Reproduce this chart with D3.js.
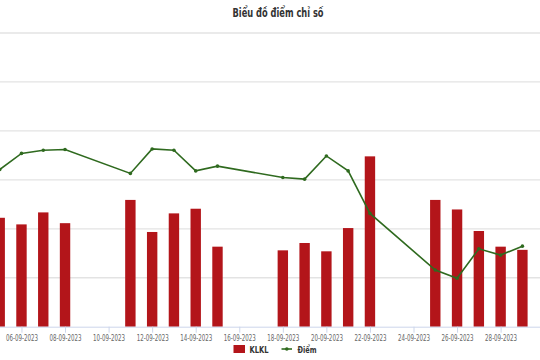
<!DOCTYPE html>
<html>
<head>
<meta charset="utf-8">
<script src="https://cdn.jsdelivr.net/npm/d3@7"></script>
<style>
  html, body { margin: 0; padding: 0; background: #fff; }
  svg { display: block; }
  text { font-family: "Liberation Sans Narrow", "DejaVu Sans Condensed", "Arial Narrow", sans-serif; }
</style>
</head>
<body>
<svg id="chart" width="540" height="360"></svg>
<script>
// ---- data ----
const dates = ["2023-09-05","2023-09-06","2023-09-07","2023-09-08","2023-09-11","2023-09-12","2023-09-13","2023-09-14","2023-09-15","2023-09-18","2023-09-19","2023-09-20","2023-09-21","2023-09-22","2023-09-25","2023-09-26","2023-09-27","2023-09-28","2023-09-29"];
const klkl = [445, 418, 467, 423, 518, 387, 463, 482, 327, 312, 342, 308, 403, 696, 518, 479, 391, 327, 314];
const diem = [1232.4, 1243.9, 1246.2, 1246.7, 1229.6, 1247.1, 1246.2, 1231.4, 1234.8, 1226.7, 1225.5, 1242.1, 1231.4, 1201.0, 1160.5, 1154.6, 1175.7, 1171.2, 1177.6];
const tickDates = ["2023-09-06","2023-09-08","2023-09-10","2023-09-12","2023-09-14","2023-09-16","2023-09-18","2023-09-20","2023-09-22","2023-09-24","2023-09-26","2023-09-28"];
const klklTicks = [0, 200, 400, 600, 800, 1000, 1200];
const title = "Biểu đồ điểm chỉ số";
const seriesNames = ["KLKL", "Điểm"];

// ---- layout ----
const svg = d3.select("#chart");
const plotTop = 33, plotBottom = 326.7, plotRight = 540;
const parse = d3.utcParse("%Y-%m-%d");
const fmt = d3.utcFormat("%d-%m-%Y");
const barColor = "#b3151a", lineColor = "#2f6a1f";

const x = d3.scaleUtc()
  .domain([parse("2023-09-05"), parse("2023-09-29")])
  .range([-0.3, 522.4]);
const y1 = d3.scaleLinear().domain([0, 1200]).range([plotBottom, plotTop]);
const y2 = d3.scaleLinear().domain([1120, 1330]).range([plotBottom, plotTop]);

// title
svg.append("text")
  .attr("x", 278).attr("y", 17)
  .attr("text-anchor", "middle")
  .attr("font-size", 12.5).attr("font-weight", "bold")
  .attr("fill", "#333")
  .attr("textLength", 91).attr("lengthAdjust", "spacingAndGlyphs")
  .text(title);

// gridlines
svg.append("g").selectAll("line")
  .data(klklTicks.slice(1))
  .join("line")
  .attr("x1", 0).attr("x2", plotRight)
  .attr("y1", d => y1(d)).attr("y2", d => y1(d))
  .attr("stroke", "#e3e3e3").attr("stroke-width", 1.3);

// bars
const bw = 10.4;
svg.append("g").selectAll("rect")
  .data(dates.map((d, i) => ({ d: parse(d), v: klkl[i] })))
  .join("rect")
  .attr("x", d => x(d.d) - bw / 2)
  .attr("width", bw)
  .attr("y", d => y1(d.v))
  .attr("height", d => plotBottom - y1(d.v))
  .attr("fill", barColor);

// x axis
const xAxis = d3.axisBottom(x)
  .tickValues(tickDates.map(parse))
  .tickFormat(fmt)
  .tickSize(6)
  .tickSizeOuter(0);
const gx = svg.append("g")
  .attr("transform", `translate(0,${plotBottom})`)
  .call(xAxis);
gx.select(".domain").attr("stroke", "#ccd6eb").attr("d", `M0,0.5H${plotRight}`);
gx.selectAll(".tick line").attr("stroke", "#ccd6eb");
gx.selectAll(".tick text")
  .attr("fill", "#666").attr("font-size", 8.5)
  .attr("y", 8)
  .attr("textLength", 32).attr("lengthAdjust", "spacingAndGlyphs")
  .attr("font-family", "'Liberation Sans Narrow', 'DejaVu Sans Condensed', sans-serif");

// line
const pts = dates.map((d, i) => ({ d: parse(d), v: diem[i] }));
const line = d3.line().x(d => x(d.d)).y(d => y2(d.v));
svg.append("path")
  .datum(pts)
  .attr("d", line)
  .attr("fill", "none")
  .attr("stroke", lineColor)
  .attr("stroke-width", 1.6);
svg.append("g").selectAll("circle")
  .data(pts)
  .join("circle")
  .attr("cx", d => x(d.d)).attr("cy", d => y2(d.v))
  .attr("r", 1.8)
  .attr("fill", lineColor);

// legend
const lg = svg.append("g");
lg.append("rect").attr("x", 233.5).attr("y", 345).attr("width", 11.5).attr("height", 8).attr("fill", barColor);
lg.append("text").attr("x", 249.5).attr("y", 352.5).attr("font-size", 9.5).attr("font-weight", "bold").attr("fill", "#333")
  .attr("textLength", 19).attr("lengthAdjust", "spacingAndGlyphs").text(seriesNames[0]);
lg.append("line").attr("x1", 281.5).attr("x2", 292).attr("y1", 349).attr("y2", 349).attr("stroke", lineColor).attr("stroke-width", 1.6);
lg.append("circle").attr("cx", 286.8).attr("cy", 349).attr("r", 1.8).attr("fill", lineColor);
lg.append("text").attr("x", 297.5).attr("y", 352.5).attr("font-size", 9.5).attr("font-weight", "bold").attr("fill", "#333")
  .attr("textLength", 19).attr("lengthAdjust", "spacingAndGlyphs").text(seriesNames[1]);
</script>
</body>
</html>
